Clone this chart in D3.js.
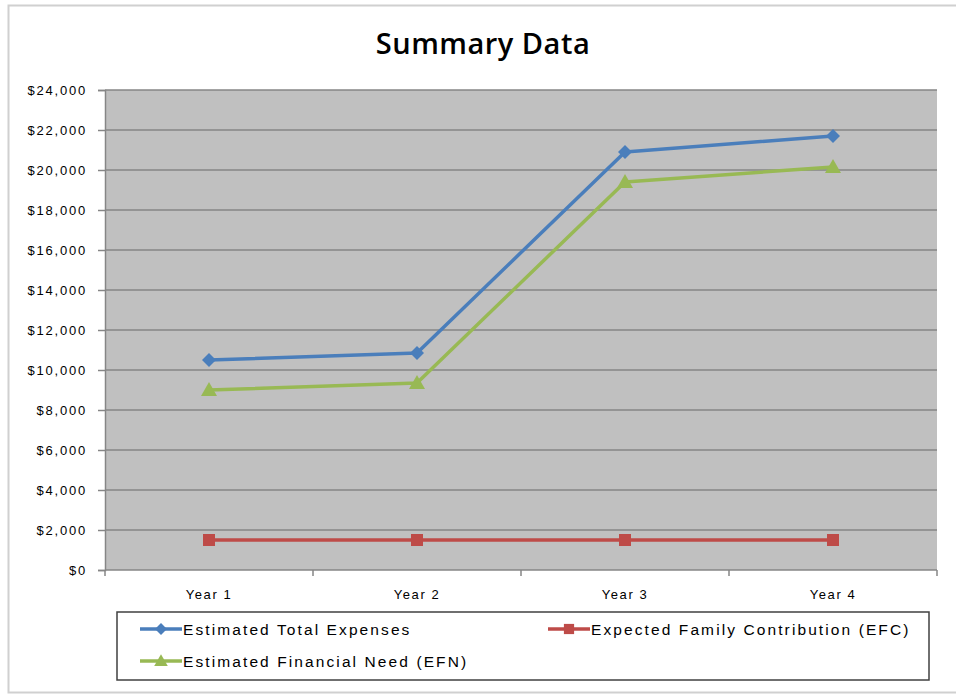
<!DOCTYPE html>
<html><head><meta charset="utf-8">
<script src="https://cdn.jsdelivr.net/npm/d3@7"></script>
<style>body{margin:0;background:#fff;} svg{display:block;}</style>
</head><body>
<script>
const categories = ["Year 1","Year 2","Year 3","Year 4"];
const seriesNames = ["Estimated Total Expenses","Expected Family Contribution (EFC)","Estimated Financial Need (EFN)"];
const totalExpenses = [10500, 10850, 20900, 21700];
const efc = [1500, 1500, 1500, 1500];
const efn = [9000, 9350, 19400, 20150];
const yTicks = [0,2000,4000,6000,8000,10000,12000,14000,16000,18000,20000,22000,24000];
const colors = ["#4a7ebb","#be4b48","#98b954"];
const markers = ["diamond","square","triangle"];

const W=956,H=696;
const svg=d3.select("body").append("svg").attr("width",W).attr("height",H);
// chart border
svg.append("rect").attr("x",8.5).attr("y",5.5).attr("width",960).attr("height",687).attr("fill","#fff").attr("stroke","#d0d0d0").attr("stroke-width",2);

const L=105,R=937,T=90,B=570;
const x=d3.scaleBand().domain(categories).range([L,R]);
const y=d3.scaleLinear().domain([0,24000]).range([B,T]);

svg.append("rect").attr("x",L).attr("y",T).attr("width",R-L).attr("height",B-T).attr("fill","#c0c0c0");
// gridlines
svg.append("g").selectAll("line").data(yTicks.filter(d=>d>0)).join("line")
 .attr("x1",L).attr("x2",R).attr("y1",d=>y(d)).attr("y2",d=>y(d)).attr("stroke","#868686").attr("stroke-width",1.5);

const yAxis=d3.axisLeft(y).tickValues(yTicks).tickSize(7).tickPadding(11)
 .tickFormat(d=>"$"+d3.format(",")(d));
const gy=svg.append("g").attr("transform",`translate(${L},0)`).call(yAxis);
gy.select(".domain").attr("stroke","#868686").attr("stroke-width",1.5);
gy.selectAll(".tick line").attr("stroke","#868686").attr("stroke-width",1.5);
gy.selectAll("text").attr("font-family","Liberation Sans, Arial, sans-serif").attr("font-size",13).attr("fill","#000").attr("letter-spacing","1.8px");

// x axis
const gx=svg.append("g").attr("transform",`translate(0,${B})`);
gx.append("line").attr("x1",L).attr("x2",R).attr("stroke","#868686").attr("stroke-width",1.5);
const bounds=categories.map(c=>x(c)).concat([R]);
gx.selectAll("line.t").data(bounds).join("line").attr("class","t")
 .attr("x1",d=>d).attr("x2",d=>d).attr("y1",0).attr("y2",6).attr("stroke","#868686").attr("stroke-width",1.5);
gx.selectAll("text").data(categories).join("text")
 .attr("x",d=>x(d)+x.bandwidth()/2).attr("y",29).attr("text-anchor","middle")
 .attr("font-family","Liberation Sans, Arial, sans-serif").attr("font-size",13).attr("letter-spacing","1.6px").text(d=>d);

const data=[totalExpenses,efc,efn];
function marker(g,type,cx,cy,color,s){
  s=s||1;
  if(type==="diamond") g.append("path").attr("d",`M${cx},${cy-7*s}L${cx+7*s},${cy}L${cx},${cy+7*s}L${cx-7*s},${cy}Z`).attr("fill",color);
  else if(type==="square") g.append("rect").attr("x",cx-6*s).attr("y",cy-6*s).attr("width",12*s).attr("height",12*s).attr("fill",color);
  else g.append("path").attr("d",`M${cx},${cy-8*s}L${cx+8*s},${cy+6*s}L${cx-8*s},${cy+6*s}Z`).attr("fill",color);
}
const line=d3.line().x((d,i)=>x(categories[i])+x.bandwidth()/2).y(d=>y(d));
data.forEach((vals,k)=>{
  const g=svg.append("g");
  g.append("path").datum(vals).attr("d",line).attr("fill","none").attr("stroke",colors[k]).attr("stroke-width",3.5).attr("stroke-linejoin","round");
  vals.forEach((v,i)=>marker(g,markers[k],x(categories[i])+x.bandwidth()/2,y(v),colors[k]));
});

// title
svg.append("text").attr("x",483).attr("y",54).attr("text-anchor","middle")
 .attr("font-family","Open Sans, Lato, sans-serif").attr("font-weight","600").attr("font-size",29).attr("letter-spacing","0.5px").attr("fill","#000").text("Summary Data");

// legend
svg.append("rect").attr("x",117).attr("y",612).attr("width",812).attr("height",68).attr("fill","#fff").attr("stroke","#404040").attr("stroke-width",1.5);
const legPos=[[140,629],[548,629],[140,661]];
seriesNames.forEach((n,k)=>{
  const [lx,ly]=legPos[k];
  const g=svg.append("g");
  g.append("line").attr("x1",lx).attr("x2",lx+42).attr("y1",ly).attr("y2",ly).attr("stroke",colors[k]).attr("stroke-width",3.5);
  marker(g,markers[k],lx+21,ly,colors[k],0.85);
  g.append("text").attr("x",lx+43).attr("y",ly+5.5).attr("font-family","Liberation Sans, Arial, sans-serif")
   .attr("font-size",15.5).attr("fill","#000").attr("letter-spacing","2.1px").text(n);
});
</script>
</body></html>
